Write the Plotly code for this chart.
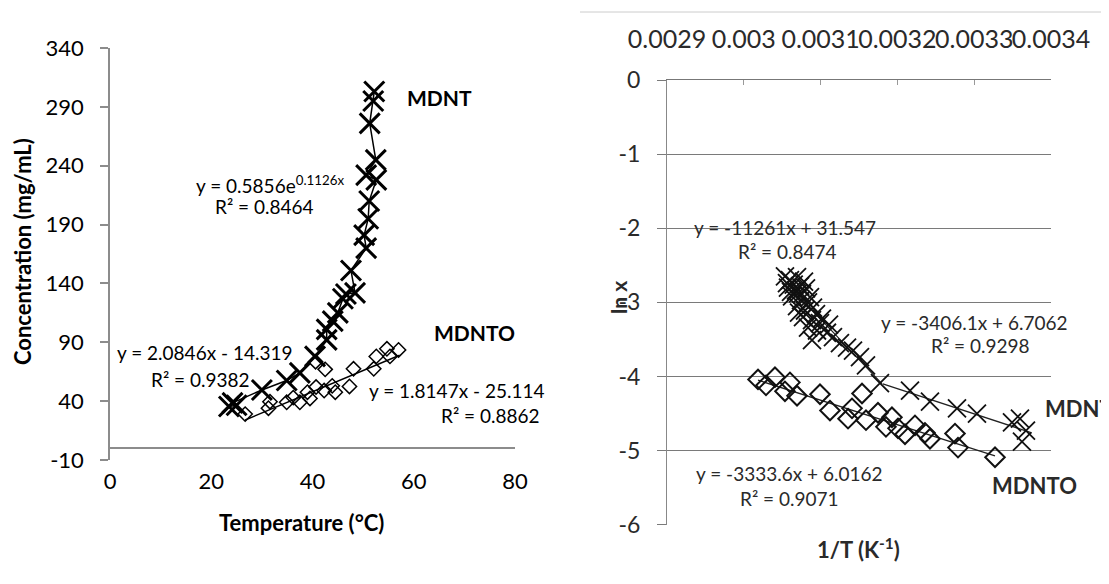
import plotly.graph_objects as go

# page is 1109x584; browser body margin puts the figure at (8, 8)
OFF = 8
FW, FH = 1101, 576


def pxx(x):
    return (x - OFF) / FW


def pxy(y):
    return 1 - (y - OFF) / FH


# ---------------- Left panel data: Temperature (°C) vs Concentration (mg/mL)
mdnt_temp = [23.5, 25.0, 24.2, 30.0, 34.9, 37.5, 40.5, 42.8, 42.8, 44.0, 45.0, 46.0,
             46.6, 48.4, 47.6, 50.6, 50.2, 51.0, 51.2, 52.6, 50.6, 52.5, 51.3, 52.0, 52.2]
mdnt_conc = [35.5, 36.5, 38.5, 49.5, 57.5, 64.0, 78.0, 92.0, 101.0, 108.0, 115.0, 127.0,
             131.0, 132.0, 151.0, 170.0, 181.0, 195.0, 210.0, 228.0, 232.0, 245.0, 276.0, 295.0, 303.0]

mdnto_temp = [26.7, 31.3, 31.6, 34.9, 36.2, 37.5, 39.5, 39.0, 40.7, 42.3, 42.5, 40.6,
              43.9, 44.5, 47.3, 48.1, 52.1, 52.6, 54.7, 55.3, 57.0]
mdnto_conc = [29.0, 34.0, 39.5, 39.0, 43.0, 39.0, 42.3, 47.6, 52.0, 49.0, 67.0, 73.5,
              53.0, 47.6, 52.5, 67.5, 67.5, 78.0, 84.5, 78.0, 83.5]

mdnto_trend_temp = [26.7, 57.2]
mdnto_trend_conc = [24.0, 79.0]

left_xticks = [0, 20, 40, 60, 80]
left_yticks = [-10, 40, 90, 140, 190, 240, 290, 340]
left_yticktext = ["-10", "40", "90", "140", "190", "240", "290", "340"]

# ---------------- Right panel data: 1/T (K^-1) vs ln x
mdnt_invT = [0.0030536, 0.0030601, 0.0030693, 0.0030784, 0.0030575, 0.0030680, 0.0030810,
             0.0030628, 0.0030745, 0.0030862, 0.0030693, 0.0030797, 0.0030901, 0.0030771,
             0.0030888, 0.0030992, 0.0030836, 0.0030953, 0.0031083, 0.0030888, 0.0031161,
             0.0031252, 0.0031344, 0.0031422, 0.0031513, 0.0031591, 0.0031773, 0.0032164,
             0.0032424, 0.0032776, 0.0033036, 0.0033492, 0.0033596, 0.0033674, 0.0033622,
             0.0030562, 0.0030650, 0.0030732, 0.0030706, 0.0030615, 0.0030758, 0.0030836,
             0.0030719, 0.0030940, 0.0031018, 0.0031110]
mdnt_lnx = [-2.65, -2.70, -2.66, -2.72, -2.80, -2.84, -2.81, -2.92, -2.97, -2.93, -3.05,
            -3.11, -3.07, -3.20, -3.24, -3.28, -3.34, -3.38, -3.41, -3.51, -3.47, -3.55,
            -3.61, -3.65, -3.74, -3.85, -4.09, -4.19, -4.34, -4.43, -4.50, -4.62, -4.57,
            -4.73, -4.88,
            -2.74, -2.76, -2.78, -2.88, -2.86, -2.89, -3.00, -3.14, -3.16, -3.22, -3.30]

mdnto_invT = [0.0030185, 0.0030289, 0.0030406, 0.0030536, 0.0030601, 0.0030693, 0.0030992,
              0.0031122, 0.0031357, 0.0031409, 0.0031539, 0.0031591, 0.0031747, 0.0031851,
              0.0031929, 0.0032008, 0.0032099, 0.0032229, 0.0032359, 0.0032424, 0.0032750,
              0.0032789, 0.0033271]
mdnto_lnx = [-4.04, -4.12, -4.01, -4.20, -4.08, -4.26, -4.24, -4.46, -4.57, -4.43, -4.23,
             -4.59, -4.49, -4.68, -4.55, -4.70, -4.78, -4.66, -4.76, -4.84, -4.77, -4.96,
             -5.09]

mdnt_steep_invT = [0.003052, 0.003180]
mdnt_steep_lnx = [-2.70, -4.10]
mdnt_shallow_invT = [0.003181, 0.003375]
mdnt_shallow_lnx = [-4.10, -4.76]
mdnto_line_invT = [0.0030185, 0.0033271]
mdnto_line_lnx = [-4.05, -5.07]

right_xticks = [0.0029, 0.0030, 0.0031, 0.0032, 0.0033, 0.0034]
right_xticktext = ["0.0029", "0.003", "0.0031", "0.0032", "0.0033", "0.0034"]
right_yticks = [0, -1, -2, -3, -4, -5, -6]
right_yticktext = ["0", "-1", "-2", "-3", "-4", "-5", "-6"]

FONT = "Lato"
GRID = "#8c8c8c"
RC = "#2a2a2a"

fig = go.Figure()

# Left panel traces
fig.add_trace(go.Scatter(x=mdnto_trend_temp, y=mdnto_trend_conc, mode="lines",
                         line=dict(color="black", width=1.5), xaxis="x", yaxis="y",
                         showlegend=False, hoverinfo="skip"))
fig.add_trace(go.Scatter(x=mdnto_temp, y=mdnto_conc, mode="markers",
                         marker=dict(symbol="diamond-open", size=11, color="black",
                                     line=dict(width=1.5, color="black")),
                         xaxis="x", yaxis="y", showlegend=False))
fig.add_trace(go.Scatter(x=mdnt_temp, y=mdnt_conc, mode="lines+markers",
                         line=dict(color="black", width=1.5),
                         marker=dict(symbol="x-thin-open", size=20, color="black",
                                     line=dict(width=3, color="black")),
                         xaxis="x", yaxis="y", showlegend=False))

# Right panel traces
for xs, ys in [(mdnt_steep_invT, mdnt_steep_lnx), (mdnt_shallow_invT, mdnt_shallow_lnx),
               (mdnto_line_invT, mdnto_line_lnx)]:
    fig.add_trace(go.Scatter(x=xs, y=ys, mode="lines", line=dict(color="#222", width=1.3),
                             xaxis="x2", yaxis="y2", showlegend=False, hoverinfo="skip"))
fig.add_trace(go.Scatter(x=mdnto_invT, y=mdnto_lnx, mode="markers",
                         marker=dict(symbol="diamond-open", size=15, color="#111",
                                     line=dict(width=2, color="#111")),
                         xaxis="x2", yaxis="y2", showlegend=False))
fig.add_trace(go.Scatter(x=mdnt_invT, y=mdnt_lnx, mode="markers",
                         marker=dict(symbol="x-thin-open", size=18, color="#111",
                                     line=dict(width=1.8, color="#111")),
                         xaxis="x2", yaxis="y2", showlegend=False))

ldom_x = [pxx(110), pxx(515)]
ldom_y = [pxy(460), pxy(48)]
rdom_x = [pxx(667), pxx(1051)]
rdom_y = [pxy(524.7), pxy(80)]

fig.update_layout(
    width=FW, height=FH, margin=dict(l=0, r=0, t=0, b=0, autoexpand=False),
    paper_bgcolor="white", plot_bgcolor="white",
    font=dict(family=FONT, color="black"),
    xaxis=dict(domain=ldom_x, range=[0, 80], tickvals=left_xticks, showgrid=False,
               showline=False, zeroline=False, ticks="", anchor="y", automargin=False,
               tickfont=dict(size=22, color="black"), ticklabelstandoff=6, tickangle=0),
    yaxis=dict(domain=ldom_y, range=[-10, 340], tickvals=left_yticks,
               ticktext=left_yticktext, showgrid=False, automargin=False,
               showline=True, linecolor=GRID, linewidth=1.5, ticks="outside", ticklen=8,
               tickcolor=GRID, tickwidth=1.5, zeroline=True, zerolinecolor=GRID,
               zerolinewidth=1.5, anchor="x", tickfont=dict(size=22, color="black"),
               ticklabelstandoff=12),
    yaxis3=dict(domain=ldom_y, range=[-10, 340], tickvals=left_yticks[1:], showgrid=True,
                gridcolor=GRID, gridwidth=1.5, showticklabels=False, zeroline=False,
                overlaying="y", anchor="x", automargin=False),
    xaxis2=dict(domain=rdom_x, range=[0.0029, 0.0034], tickvals=right_xticks,
                ticktext=right_xticktext, side="top", anchor="y2", showgrid=False,
                showline=True, linecolor="#777", linewidth=1.2, ticks="inside", ticklen=5,
                tickcolor="#999", zeroline=False, tickfont=dict(size=25, color=RC),
                ticklabelstandoff=21, automargin=False, tickangle=0),
    yaxis2=dict(domain=rdom_y, range=[-6, 0], tickvals=right_yticks,
                ticktext=right_yticktext, showgrid=True,
                gridcolor="#7a7a7a", gridwidth=1.2, showline=True, linecolor="#888",
                linewidth=1.2, ticks="outside", ticklen=9, tickcolor="#7a7a7a",
                zeroline=False, anchor="x2", tickfont=dict(size=23, color=RC),
                ticklabelstandoff=12, automargin=False),
)

annotations = []


def dat(text, x, y, xref, yref, size=19, bold=False, xanchor="center", color="black"):
    annotations.append(dict(text=f"<b>{text}</b>" if bold else text, x=x, y=y, xref=xref,
                            yref=yref, showarrow=False, xanchor=xanchor, yanchor="middle",
                            font=dict(family=FONT, size=size, color=color)))


def title(text, x, y, size, color, angle=0):
    annotations.append(dict(text=text, x=pxx(x), y=pxy(y), xref="paper", yref="paper",
                            showarrow=False, xanchor="center", yanchor="middle",
                            textangle=angle, font=dict(family=FONT, size=size, color=color)))


# Left panel labels
dat("y = 0.5856e<sup>0.1126x</sup>", 31.6, 224, "x", "y")
dat("R² = 0.8464", 30.6, 205, "x", "y")
dat("MDNT", 58.3, 298, "x", "y", size=21, bold=True, xanchor="left")
dat("MDNTO", 63.6, 98, "x", "y", size=21, bold=True, xanchor="left")
dat("y = 2.0846x - 14.319", 18.8, 81, "x", "y")
dat("R² = 0.9382", 17.8, 58, "x", "y")
dat("y = 1.8147x - 25.114", 68.6, 49, "x", "y")
dat("R² = 0.8862", 75.1, 28, "x", "y")

# Right panel labels
dat("y = -11261x + 31.547", 0.0030536, -1.99, "x2", "y2", color=RC)
dat("R² = 0.8474", 0.0030575, -2.32, "x2", "y2", color=RC)
dat("y = -3406.1x + 6.7062", 0.0033010, -3.27, "x2", "y2", color=RC)
dat("R² = 0.9298", 0.0033088, -3.58, "x2", "y2", color=RC)
dat("y = -3333.6x + 6.0162", 0.0030601, -5.31, "x2", "y2", color=RC)
dat("R² = 0.9071", 0.0030601, -5.65, "x2", "y2", color=RC)
dat("MDNT", 0.0033896, -4.43, "x2", "y2", size=22, bold=True, xanchor="left", color=RC)
dat("MDNTO", 0.0033791, -5.47, "x2", "y2", size=22, bold=True, color=RC)

# Axis titles
title("<b>Temperature (°C)</b>", 301, 522, 22, "black")
title("<b>Concentration (mg/mL)</b>", 22, 252, 22, "black", angle=-90)
title("<b>ln x</b>", 618, 298, 21, RC, angle=-90)
title("<b>1/T (K<sup>-1</sup>)</b>", 858, 548, 22, RC)

fig.update_layout(annotations=annotations)

# faint frame line at the top of the right panel
fig.add_shape(type="line", xref="paper", yref="paper", x0=pxx(580), x1=1.0,
              y0=pxy(12), y1=pxy(12), line=dict(color="#cccccc", width=1))

fig.write_html("out.html")
